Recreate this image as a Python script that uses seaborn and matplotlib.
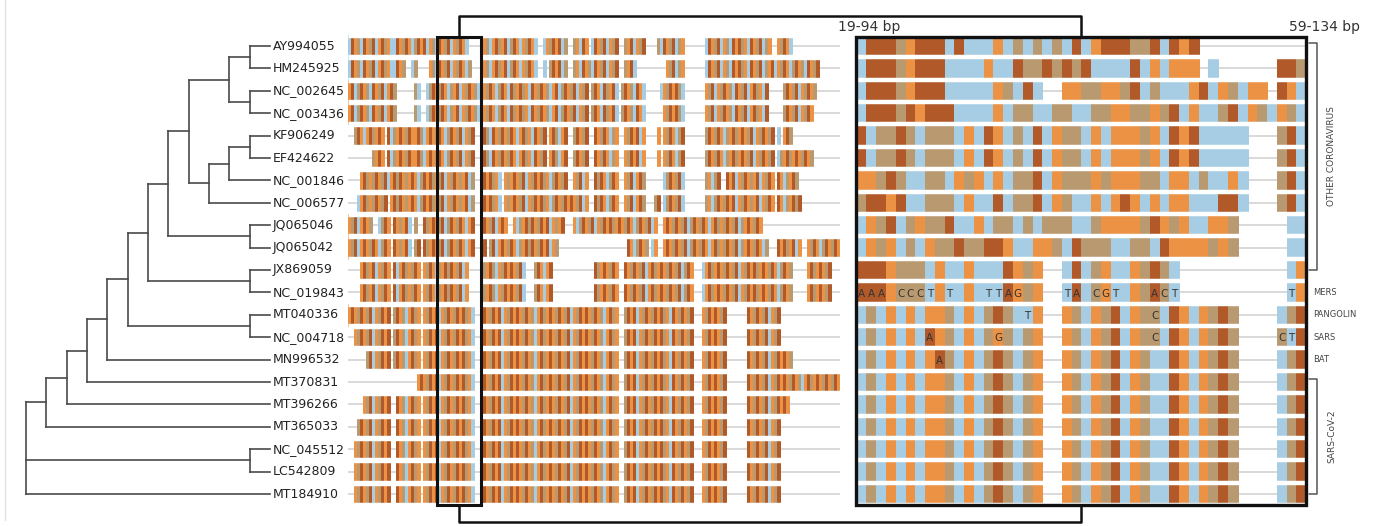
import numpy as np
import pandas as pd
import matplotlib
matplotlib.use("Agg")
import matplotlib.pyplot as plt
from matplotlib.collections import LineCollection
from matplotlib.colors import ListedColormap
from matplotlib.patches import Rectangle
import seaborn as sns

# ---- data -------------------------------------------------------------
accessions = ["AY994055", "HM245925", "NC_002645", "NC_003436", "KF906249",
              "EF424622", "NC_001846", "NC_006577", "JQ065046", "JQ065042",
              "JX869059", "NC_019843", "MT040336", "NC_004718", "MN996532",
              "MT370831", "MT396266", "MT365033", "NC_045512", "LC542809",
              "MT184910"]

# cladogram topology, innermost clade first, then the ladder of outgroups
other_cov = ((("AY994055", "HM245925"), ("NC_002645", "NC_003436")),
             ((("KF906249", "EF424622"), "NC_001846"), "NC_006577"))
ladder = [("JQ065046", "JQ065042"), ("JX869059", "NC_019843"),
          ("MT040336", "NC_004718"), "MN996532", "MT370831", "MT396266",
          "MT365033"]
root_extra = [("NC_045512", "LC542809"), "MT184910"]

# zoomed window (59-134 bp), one string per accession, '-' = gap
zoom_seqs = [
    "TAAACGAAATATTTGTCTCTCTAT" + "GAAACCATAGA-----------",
    "TAAACGAAATTTTGTTACCACACA" + "TTTTATGTGGG-T------AAC",
    "TAAACGAAATTTTTGCTAT--GGC" + "CGGCATCTTTGATGCTGG-AGT",
    "TAAACAGAAATTTTGTCCTTCCTT" + "CCGGCCGCATGTTCATGCTGCT",
    "ATCCACTCCCTGTAGTCTATGCCT" + "GTGGGCGTAGATTTTT---CAT",
    "ATCCACTCCCTGTAGTCTATGCCT" + "GTGGGCGTAGATTTTT---CAT",
    "GGCACTTCCTGCGTGTCCATGCCC" + "GCGGGCCTGGTCTTGT---CAT",
    "CAAGATTCCCTGTTATCCATGCTT" + "GTGAGTGTGGTTTAAT---CAT",
    "TGCATCGCCATTGTCCTCTCCCTT" + "CGGGGCAGCGTTGGC-----TT",
    "TGCGTCTGCCACCAAGTTGGCTAC" + "CCTTCCTAGGGGCGC-----TT",
    "AAAGCCCTGTTGTTTAGCG--TAT" + "CGTTGCACT-----------TG",
    "AAAGCCCTGTTGTTTAGCG--TAT" + "CGTTGCACT-----------TG",
    "TCTGTGTGGCTGTCACTTG--GCT" + "GCATGCCTAGTGCAC----TCA",
    "TCTGTGTAGCTGTCGCTCG--GCT" + "GCATGCCTAGTGCAC----CTA",
    "TCTGTGTGACTGTCACTCG--GCT" + "GCATGCTTAGTGCAC----TCA",
    "TCTGTGTGGCTGTCACTCG--GCT" + "GCATGCTTAGTGCAC----TCA",
    "TCTGTGTGGCTGTCACTCG--GCT" + "GCATGCTTAGTGCAC----TCA",
    "TCTGTGTGGCTGTCACTCG--GCT" + "GCATGCTTAGTGCAC----TCA",
    "TCTGTGTGGCTGTCACTCG--GCT" + "GCATGCTTAGTGCAC----TCA",
    "TCTGTGTGGCTGTCACTCG--GCT" + "GCATGCTTAGTGCAC----TCA",
    "TCTGTGTGGCTGTCACTCG--GCT" + "GCATGCTTAGTGCAC----TCA",
]
reference_accession = "MT184910"
lettered = {"NC_019843": "MERS", "MT040336": "PANGOLIN",
            "NC_004718": "SARS", "MN996532": "BAT"}
clade_brackets = [("OTHER CORONAVIRUS", "AY994055", "JX869059"),
                  ("SARS-CoV-2", "MT370831", "MT184910")]

# whole-alignment overview: stripe sequences (164 columns) + aligned spans
stripes_a = ("TAGCTAGCAT GACGTTAGCA GTCAGATGCT AGCATGCAGT CAGTAGCTGA CGATCAGTGC "
             "AGTCATGCAG ATCGACGTAG CTAGCATGCA GTCGATGCAG TAGCTAGCAT CGAGTCAGCT "
             "AGCATGCTAG ACGTAGCATC GATGCAGTCA GCTAGCATGC AGTC")
stripes_b = ("GATCAGCTAG CATGACAGCT GACTGATCAG CAGTCGATGC AGCTAGCAGT CAGTACGACG "
             "TAGCAGCTGA TCAGCATGCA GCAGTACGAT GCAGCTAGTC AGCATGCAGA CTGCAGTCAG "
             "CATGCAGCTA GCATGACGTA GCAGTCAGCA TGCAGCTAGC AGCT")
stripes_c = ("AGCAGTGACG AGCATCGAGC AGGACTGAGC AGTCAGCATG CAGCGACTAG CAGCAGTGAC "
             "GTAGCAGGAC TGACGCAGCA TGAGCAGTCG ACGCAGATGC AGCGAGCAGT CAGACGTAGC "
             "AGCAGTCGAC GAGCATGCAG CAGTCGACGA GCAGCTAGCA GACG")
stripes_d = ("CAGTGACGCA GCATGACAGC GAGTCAGACG CATGCAGCGA TCAGCAGACG TAGCGAGCAT "
             "GCAGACGTCA GCAGAGCATG CGACAGTCAG CAGCATGACG AGCAGTCAGC ATGCAGCGAC "
             "GTCAGCAGAT GCAGCGATGC AGCAGTCGAC AGCATGCAGA CGAG")
stripes_e = ("GCATGAGCAG TCAGCAGCGA TGCAGACGAG CATCAGCAGT GACGCAGCAT GAGCAGTCGA "
             "CAGCAGATGC GAGCAGTCAG CATGCAGACG AGCAGTCAGC ATGACGAGCA GCATCAGCAG "
             "TGACGCAGCA TCGAGCAGTC AGCAGACGAT GCAGCAGTCA GCAG")
stripes_f = ("AGCAGACGAT GCAGCATGAC GCAGAGCAGT CGACAGCATG AGCAGCGACT GCAGAGCATC "
             "AGCAGTGACG AGCAGCATGC AGACGAGCAG TCAGCAGCAT GACGAGCAGC ATCAGCAGTG "
             "ACGAGCAGCA TGCAGACGAG CAGTCAGCAG CATGACGAGC AGCA")
stripes_g = ("GAGCAGCATG CAGAGCAGCT GACGAGCAGA TGCAGCAGAC GTAGCAGCAG ATGCAGAGCA "
             "GCTGACGAGC AGCATGCAGA GCAGCTGACG AGCAGATGCA GCAGACGTAG CAGCAGATGC "
             "AGAGCAGCTG ACGAGCAGCA TGCAGAGCAG CTGACGAGCA GCAG")
overview_stripes = [stripes_a, stripes_a, stripes_b, stripes_b, stripes_c,
                    stripes_c, stripes_d, stripes_d, stripes_e, stripes_e,
                    stripes_f, stripes_f] + [stripes_g] * 9
overview_spans = [
    [(0, 40), (45, 63), (65, 73), (75, 80), (81, 90), (92, 99), (103, 112), (119, 141), (143, 148)],
    [(0, 19), (21, 23), (27, 41), (45, 63), (65, 66), (67, 73), (75, 90), (92, 96), (106, 112), (119, 157)],
    [(0, 16), (22, 24), (26, 80), (81, 90), (91, 99), (104, 112), (119, 140), (145, 156)],
    [(0, 16), (22, 24), (26, 80), (81, 90), (91, 99), (105, 112), (119, 140), (145, 155)],
    [(2, 12), (13, 42), (45, 66), (67, 73), (75, 80), (82, 90), (92, 99), (103, 104), (105, 112), (119, 142), (143, 144), (145, 148)],
    [(8, 12), (13, 42), (45, 66), (67, 73), (75, 80), (82, 90), (92, 99), (103, 104), (105, 112), (119, 142), (143, 155)],
    [(4, 42), (45, 51), (52, 73), (75, 80), (82, 90), (92, 99), (105, 112), (119, 124), (126, 142), (143, 150)],
    [(3, 13), (14, 42), (45, 51), (52, 80), (82, 90), (92, 99), (102, 104), (105, 112), (119, 142), (143, 151)],
    [(0, 8), (10, 14), (15, 21), (22, 23), (25, 42), (45, 53), (55, 72), (75, 103), (105, 138)],
    [(0, 14), (15, 21), (22, 24), (25, 42), (45, 46), (47, 70), (93, 100), (101, 103), (105, 140), (143, 151), (153, 164)],
    [(4, 14), (15, 24), (25, 40), (45, 59), (62, 68), (82, 90), (92, 115), (118, 148), (153, 161)],
    [(4, 14), (15, 24), (25, 40), (45, 59), (62, 68), (82, 90), (92, 115), (118, 148), (153, 161)],
    [(0, 14), (15, 24), (25, 42), (45, 90), (92, 115), (118, 126), (133, 144)],
    [(2, 14), (15, 24), (25, 42), (45, 90), (92, 115), (118, 126), (133, 144)],
    [(6, 14), (15, 24), (25, 42), (45, 90), (92, 115), (118, 126), (133, 148)],
    [(23, 42), (45, 90), (92, 115), (118, 126), (133, 164)],
    [(5, 14), (16, 24), (25, 42), (45, 90), (92, 115), (118, 126), (133, 147)],
    [(3, 14), (16, 24), (25, 42), (45, 90), (92, 115), (118, 126), (133, 144)],
    [(2, 14), (16, 24), (25, 42), (45, 90), (92, 115), (118, 126), (133, 144)],
    [(2, 14), (16, 24), (25, 42), (45, 90), (92, 115), (118, 126), (133, 144)],
    [(2, 14), (16, 24), (25, 42), (45, 90), (92, 115), (118, 126), (133, 144)],
]
overview_cols = 164

bases = ["A", "C", "G", "T"]
base_colors = ["#b15928", "#b9996f", "#ec9245", "#a6cde3"]

# ---- layout (pixels of the 1380x527 canvas) ----------------------------
W, H = 1380, 527
ROW_TOP, ROW_H = 34.8, 22.4
GAP_GREY = "#cfcfcf"
base_cmap = ListedColormap(base_colors)
base_code = {b: i for i, b in enumerate(bases)}


def px_axes(fig, x0, x1, y0, y1):
    return fig.add_axes([x0 / W, 1 - y1 / H, (x1 - x0) / W, (y1 - y0) / H])


def tree_layout(node, rows, segments):
    if isinstance(node, str):
        return 0, rows[node] + 0.5
    kids = [tree_layout(child, rows, segments) for child in node]
    height = 1 + max(h for h, _ in kids)
    ys = [y for _, y in kids]
    for h, y in kids:
        segments.append([(h, y), (height, y)])
    segments.append([(height, min(ys)), (height, max(ys))])
    return height, (min(ys) + max(ys)) / 2


def draw_alignment(ax, mat, sep_lw):
    n_rows, n_cols = mat.shape
    ax.hlines(np.arange(n_rows) + 0.5, 0, n_cols, color=GAP_GREY, lw=1.1, zorder=0.5)
    sns.heatmap(mat, ax=ax, cmap=base_cmap, vmin=-0.5, vmax=3.5, cbar=False,
                mask=mat.isna(), xticklabels=False, yticklabels=False,
                linewidths=0.4, linecolor="face")
    ax.hlines(np.arange(n_rows + 1), 0, n_cols, color="white", lw=sep_lw, zorder=3)
    ax.set_axis_off()


sns.set_style("white")
plt.rcParams["font.family"] = ["DejaVu Sans"]
fig = plt.figure(figsize=(W / 100, H / 100), dpi=100)
n_rows = len(accessions)
row_of = {name: i for i, name in enumerate(accessions)}
bottom = ROW_TOP + n_rows * ROW_H

# tree
tree = other_cov
for outgroup in ladder:
    tree = (tree, outgroup)
tree = (tree, *root_extra)
segs = []
root_h, _ = tree_layout(tree, row_of, segs)
ax_tree = px_axes(fig, 26, 270, ROW_TOP, bottom)
ax_tree.add_collection(LineCollection(segs, colors="#4a4a4a", linewidths=1.2,
                                      capstyle="projecting", clip_on=False))
ax_tree.set_xlim(root_h, 0)
ax_tree.set_ylim(n_rows, 0)
for name, i in row_of.items():
    ax_tree.text(-0.12, i + 0.5, name, ha="left", va="center", fontsize=9,
                 color="#222222", clip_on=False)
ax_tree.set_axis_off()

# overview of the whole alignment
ov = np.full((n_rows, overview_cols), np.nan)
for i in range(n_rows):
    stripes = "".join(overview_stripes[i].split())
    for start, stop in overview_spans[i]:
        for c in range(start, stop):
            ov[i, c] = base_code[stripes[c]]
ov = pd.DataFrame(ov, index=accessions)
ax_ov = px_axes(fig, 348, 840, ROW_TOP, bottom)
draw_alignment(ax_ov, ov, 3.9)

# zoomed window
zm = pd.DataFrame([[base_code.get(ch, np.nan) for ch in s] for s in zoom_seqs],
                  index=accessions)
n_zoom = zm.shape[1]
ax_zm = px_axes(fig, 856.7, 856.7 + 9.77 * n_zoom, ROW_TOP, bottom)
draw_alignment(ax_zm, zm, 3.2)
ref = zoom_seqs[row_of[reference_accession]]
for name in lettered:
    i = row_of[name]
    for c, ch in enumerate(zoom_seqs[i][:n_zoom - 1]):
        if ch != "-" and ch != ref[c]:
            ax_zm.text(c + 0.5, i + 0.55, ch, ha="center", va="center",
                       fontsize=7.5, color="#333333", zorder=4)

# overlay: selection box, panel frame, connector, annotations
ov_lay = fig.add_axes([0, 0, 1, 1], zorder=5)
ov_lay.set_xlim(0, W)
ov_lay.set_ylim(H, 0)
ov_lay.set_axis_off()
box = (437, 481)
panel = (856, 1306)
top, bot = 37, 505
ov_lay.add_patch(Rectangle((box[0], top), box[1] - box[0], bot - top,
                           fill=False, lw=2.2, ec="#111111"))
ov_lay.add_patch(Rectangle((panel[0], top), panel[1] - panel[0], bot - top,
                           fill=False, lw=2.4, ec="#111111"))
bx, pxc = sum(box) / 2, sum(panel) / 2
ov_lay.plot([bx, bx, pxc, pxc], [top, 16, 16, top], color="#111111", lw=1.8)
ov_lay.plot([bx, bx, pxc, pxc], [bot, 522, 522, bot], color="#111111", lw=1.8)
ov_lay.plot([5, 5], [0, 520], color="#e2e2e2", lw=1)
ov_lay.text(838, 27, "19-94 bp", ha="left", va="center", fontsize=10, color="#333333")
ov_lay.text(1360, 27, "59-134 bp", ha="right", va="center", fontsize=10, color="#333333")

row_y = {name: ROW_TOP + (i + 0.5) * ROW_H for name, i in row_of.items()}
for label, first, last in clade_brackets:
    y0, y1 = row_y[first] - 3, row_y[last]
    ov_lay.plot([1309, 1317, 1317, 1309], [y0, y0, y1, y1], color="#555555", lw=1.1)
    ov_lay.text(1332, (y0 + y1) / 2, label, rotation=90, ha="center", va="center",
                fontsize=6.5, color="#444444")
for name, label in lettered.items():
    ov_lay.text(1313, row_y[name], label, ha="left", va="center", fontsize=6,
                color="#444444")

fig.savefig("out.png", dpi=100, facecolor="white")
